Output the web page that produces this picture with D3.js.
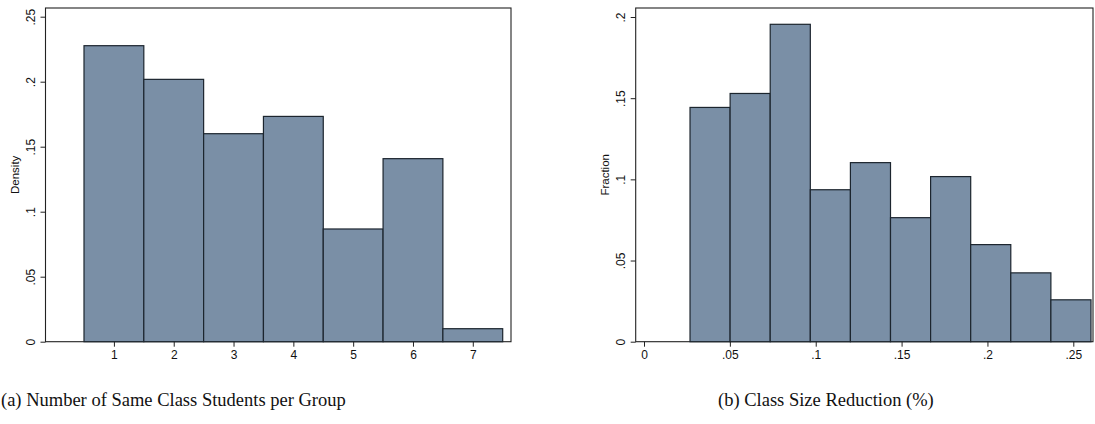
<!DOCTYPE html>
<html>
<head>
<meta charset="utf-8">
<script src="https://cdn.jsdelivr.net/npm/d3@7"></script>
<style>
  html, body { margin: 0; padding: 0; background: #fff; }
  svg { display: block; }
</style>
</head>
<body>
<svg id="chart" width="1095" height="424"></svg>
<script>
// ---- Data ----
const groupCategories = [1, 2, 3, 4, 5, 6, 7];
const groupDensity = [0.2277, 0.2018, 0.1600, 0.1733, 0.0867, 0.1408, 0.0100];
const groupYTicks = [0, 0.05, 0.1, 0.15, 0.2, 0.25];
const groupYTickLabels = ["0", ".05", ".1", ".15", ".2", ".25"];
const groupXTicks = [1, 2, 3, 4, 5, 6, 7];

const reductionBinStart = 0.0268;
const reductionBinWidth = 0.02335;
const reductionFraction = [0.1443, 0.1529, 0.1955, 0.0936, 0.1103, 0.0764, 0.1017, 0.0598, 0.0424, 0.0258];
const reductionYTicks = [0, 0.05, 0.1, 0.15, 0.2];
const reductionYTickLabels = ["0", ".05", ".1", ".15", ".2"];
const reductionXTicks = [0, 0.05, 0.1, 0.15, 0.2, 0.25];
const reductionXTickLabels = ["0", ".05", ".1", ".15", ".2", ".25"];

const captions = ["(a) Number of Same Class Students per Group", "(b) Class Size Reduction (%)"];

// ---- Styles ----
const barFill = "#7a8fa6";
const barStroke = "#1c252e";
const axisFont = "Liberation Sans, Arial, sans-serif";

const svg = d3.select("#chart");

function drawPanel(cfg) {
  const g = svg.append("g");
  const { box, x, y } = cfg;
  // plot region box
  g.append("rect")
    .attr("x", box.left).attr("y", box.top)
    .attr("width", box.right - box.left).attr("height", box.bottom - box.top)
    .attr("fill", "none").attr("stroke", "#222").attr("stroke-width", 1.1);

  // bars
  g.selectAll("rect.bar").data(cfg.bars).enter().append("rect")
    .attr("class", "bar")
    .attr("x", d => x(d.x0))
    .attr("width", d => x(d.x1) - x(d.x0))
    .attr("y", d => y(d.v))
    .attr("height", d => y(0) - y(d.v))
    .attr("fill", barFill)
    .attr("stroke", barStroke)
    .attr("stroke-width", 1.2);

  // y axis
  const yAxis = d3.axisLeft(y).tickValues(cfg.yTicks)
    .tickFormat((d, i) => cfg.yTickLabels[i]).tickSizeOuter(0).tickSize(5).tickPadding(4);
  const ya = g.append("g").attr("transform", `translate(${box.left},0)`).call(yAxis);
  ya.select(".domain").remove();
  ya.selectAll(".tick line").attr("stroke", "#222");
  ya.selectAll(".tick text")
    .attr("x", 0).attr("y", 0).attr("dy", "0.35em")
    .attr("transform", "translate(-14.5,0) rotate(-90)")
    .attr("text-anchor", "middle")
    .style("font-family", axisFont).style("font-size", "12px").attr("fill", "#111");

  // x axis
  const xAxis = d3.axisBottom(x).tickValues(cfg.xTicks)
    .tickFormat((d, i) => cfg.xTickLabels[i]).tickSizeOuter(0).tickSize(5).tickPadding(4);
  const xa = g.append("g").attr("transform", `translate(0,${box.bottom})`).call(xAxis);
  xa.select(".domain").remove();
  xa.selectAll(".tick line").attr("stroke", "#222");
  xa.selectAll(".tick text").style("font-family", axisFont).style("font-size", "12px").attr("fill", "#111");

  // y title
  g.append("text")
    .attr("transform", `translate(${cfg.yTitleX},${(box.top + box.bottom) / 2}) rotate(-90)`)
    .attr("text-anchor", "middle")
    .style("font-family", axisFont).style("font-size", "11.5px").attr("fill", "#111")
    .text(cfg.yTitle);

  // caption
  g.append("text")
    .attr("x", cfg.captionX).attr("y", 406)
    .style("font-family", "Liberation Serif, 'DejaVu Serif', serif").style("font-size", "18.5px").attr("fill", "#111")
    .text(cfg.caption);
}

// Left panel
{
  const box = { left: 45.5, right: 511, top: 8, bottom: 341.7 };
  const x = d3.scaleLinear().domain([0.5, 7.5]).range([84, 502.7]);
  const y = d3.scaleLinear().domain([0, 0.25]).range([341.7, 16.7]);
  drawPanel({
    box, x, y,
    bars: groupCategories.map((c, i) => ({ x0: c - 0.5, x1: c + 0.5, v: groupDensity[i] })),
    yTicks: groupYTicks, yTickLabels: groupYTickLabels,
    xTicks: groupXTicks, xTickLabels: groupXTicks.map(String),
    yTitle: "Density", yTitleX: 19,
    caption: captions[0], captionX: 1
  });
}

// Right panel
{
  const box = { left: 635.7, right: 1093, top: 8, bottom: 341.7 };
  const x = d3.scaleLinear().domain([0, 0.25]).range([644, 1073.3]);
  const y = d3.scaleLinear().domain([0, 0.2]).range([341.7, 17]);
  drawPanel({
    box, x, y,
    bars: reductionFraction.map((v, i) => ({
      x0: reductionBinStart + i * reductionBinWidth,
      x1: reductionBinStart + (i + 1) * reductionBinWidth,
      v
    })),
    yTicks: reductionYTicks, yTickLabels: reductionYTickLabels,
    xTicks: reductionXTicks, xTickLabels: reductionXTickLabels,
    yTitle: "Fraction", yTitleX: 609,
    caption: captions[1], captionX: 718
  });
}
</script>
</body>
</html>
